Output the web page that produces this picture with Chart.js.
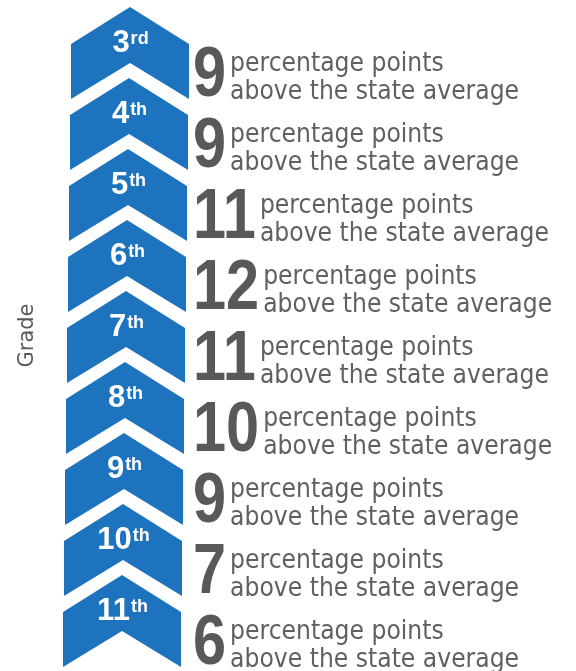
<!DOCTYPE html>
<html lang="en">
<head>
<meta charset="UTF-8">
<title>Percentage points above the state average by grade</title>
<script src="https://cdn.jsdelivr.net/npm/chart.js"></script>
<style>
  html, body { margin: 0; padding: 0; background: #fff; }
  #wrap { width: 576px; height: 671px; }
</style>
</head>
<body>
<div id="wrap"><canvas id="chart"></canvas></div>
<script>
// data
const grades = ["3", "4", "5", "6", "7", "8", "9", "10", "11"];
const suffixes = ["rd", "th", "th", "th", "th", "th", "th", "th", "th"];
const pointsAbove = [9, 9, 11, 12, 11, 10, 9, 7, 6];
const lineOne = "percentage points";
const lineTwo = "above the state average";

const BLUE = "#1e73be";
const GREY = "#595959";

// draws the chevron, grade label and the value text for each row
const chevronPlugin = {
  id: "chevrons",
  afterDatasetsDraw(chart) {
    const ctx = chart.ctx;
    const y = chart.scales.y;
    ctx.save();
    pointsAbove.forEach((val, i) => {
      const a = y.getPixelForValue(i);
      const cx = 130 - i;   // column leans a little to the left
      const hw = 59;

      ctx.beginPath();
      ctx.moveTo(cx, a - 44.5);
      ctx.lineTo(cx + hw, a - 7.5);
      ctx.lineTo(cx + hw, a + 47.5);
      ctx.lineTo(cx, a + 11.5);
      ctx.lineTo(cx - hw, a + 47.5);
      ctx.lineTo(cx - hw, a - 7.5);
      ctx.closePath();
      ctx.fillStyle = BLUE;
      ctx.fill();

      // grade label with superscript
      ctx.fillStyle = "#fff";
      ctx.textBaseline = "alphabetic";
      ctx.textAlign = "left";
      ctx.font = "bold 31px 'Liberation Sans'";
      const gw = ctx.measureText(grades[i]).width;
      ctx.font = "bold 18px 'Liberation Sans'";
      const sw = ctx.measureText(suffixes[i]).width;
      const gx = cx - (gw + sw) / 2;
      ctx.font = "bold 31px 'Liberation Sans'";
      ctx.fillText(grades[i], gx, a);
      ctx.font = "bold 18px 'Liberation Sans'";
      ctx.fillText(suffixes[i], gx + gw + 1, a - 8);

      // big value
      ctx.fillStyle = GREY;
      ctx.font = "bold 70px 'Liberation Sans'";
      const txt = String(val);
      const sx = 0.85;
      const nw = ctx.measureText(txt).width * sx;
      const nx = 193;
      ctx.save();
      ctx.translate(nx, a + 44);
      ctx.scale(sx, 1);
      ctx.fillText(txt, 0, 0);
      ctx.restore();

      // description
      const tx = nx + nw + 4;
      ctx.fillStyle = "#606060";
      ctx.font = "26px 'DejaVu Sans'";
      const fit = 289 / ctx.measureText(lineTwo).width;
      ctx.save();
      ctx.translate(tx, 0);
      ctx.scale(fit, 1);
      ctx.fillText(lineOne, 0, a + 19);
      ctx.fillText(lineTwo, 0, a + 47);
      ctx.restore();
    });
    ctx.restore();
  }
};

new Chart(document.getElementById("chart"), {
  type: "bar",
  data: {
    labels: grades.map((g, i) => g + suffixes[i]),
    datasets: [{
      label: "Percentage points above the state average",
      data: pointsAbove,
      backgroundColor: "rgba(0,0,0,0)"
    }]
  },
  options: {
    indexAxis: "y",
    responsive: true,
    maintainAspectRatio: false,
    animation: false,
    layout: { padding: { top: 16, bottom: 16, left: 15, right: 0 } },
    plugins: {
      legend: { display: false },
      tooltip: { enabled: false }
    },
    scales: {
      x: { display: false, min: 0, max: 20 },
      y: {
        grid: { display: false },
        border: { display: false },
        ticks: { display: false },
        title: {
          display: true,
          text: "Grade",
          color: GREY,
          font: { family: "'DejaVu Sans'", size: 21, weight: "normal" },
          padding: 0
        }
      }
    }
  },
  plugins: [chevronPlugin]
});
</script>
</body>
</html>
